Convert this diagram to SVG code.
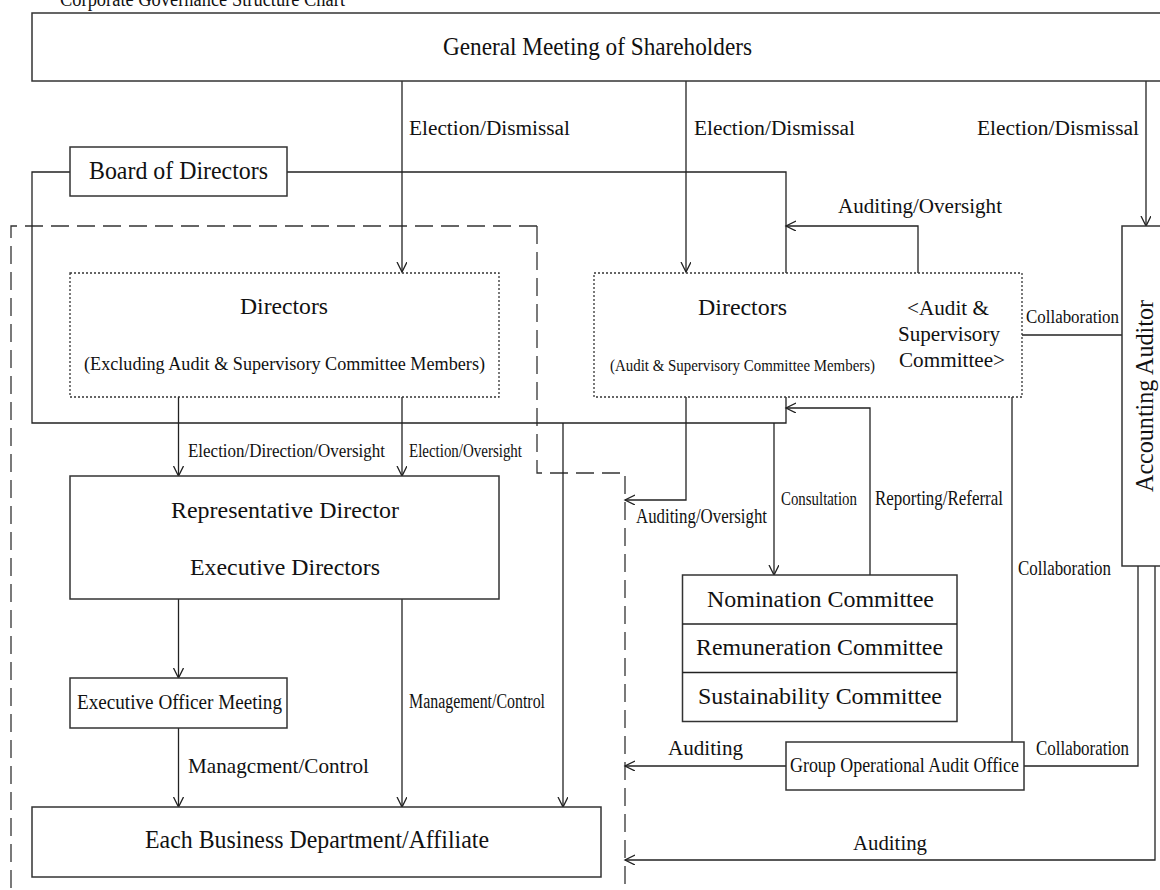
<svg xmlns="http://www.w3.org/2000/svg" width="1160" height="890" viewBox="0 0 1160 890">
<defs>
<style>
.box{fill:#fff;stroke:#333;stroke-width:1.5}
.dot{fill:none;stroke:#333;stroke-width:1.3;stroke-dasharray:2 2}
.dash{fill:none;stroke:#333;stroke-width:1.3;stroke-dasharray:18 8}
.ln{fill:none;stroke:#222;stroke-width:1.3}
.arr{marker-end:url(#ah)}
text{font-family:"Liberation Serif","Times New Roman",serif;fill:#111}
.xl{font-size:25px}
.big{font-size:23px}
.mid{font-size:21px}
.lab{font-size:20px}
.sm{font-size:18px}
.xs{font-size:16px}
</style>
<marker id="ah" markerWidth="12" markerHeight="12" refX="10" refY="5" orient="auto" markerUnits="userSpaceOnUse">
<path d="M0,0 L10,5 L0,10" fill="none" stroke="#222" stroke-width="1.3"/>
</marker>
</defs>
<rect width="1160" height="890" fill="#fff"/>
<text class="lab" x="60" y="6" textLength="285" lengthAdjust="spacingAndGlyphs">Corporate Governance Structure Chart</text>

<g id="dashed-region">
<path class="dash" d="M537,226 H11 V890"/>
<path class="dash" d="M537,226 V473 H625 V890"/>
</g>

<g id="connectors">
<path class="ln arr" d="M402,81 V272"/>
<path class="ln arr" d="M686,81 V272"/>
<path class="ln arr" d="M1146,81 V226"/>
<path class="ln" d="M70,172 H32 V423 H786 V397"/>
<path class="ln" d="M287,172 H786 V273"/>
<path class="ln arr" d="M918,273 V226 H786"/>
<path class="ln arr" d="M870,575 V408 H786"/>
<path class="ln arr" d="M774,423 V575"/>
<path class="ln arr" d="M563,423 V807"/>
<path class="ln arr" d="M178.5,397 V476"/>
<path class="ln arr" d="M402,397 V476"/>
<path class="ln arr" d="M686,397 V500 H625"/>
<path class="ln" d="M1022,335 H1122"/>
<path class="ln" d="M1012,397 V742"/>
<path class="ln arr" d="M178.5,599 V678"/>
<path class="ln arr" d="M178.5,728 V807"/>
<path class="ln arr" d="M402,599 V807"/>
<path class="ln arr" d="M786,766 H625"/>
<path class="ln" d="M1138,566 V766 H1024"/>
<path class="ln arr" d="M1155,566 V860 H625"/>
</g>

<g id="labels">
<text class="lab" x="409" y="135" textLength="161" lengthAdjust="spacingAndGlyphs">Election/Dismissal</text>
<text class="lab" x="694" y="135" textLength="161" lengthAdjust="spacingAndGlyphs">Election/Dismissal</text>
<text class="lab" x="977" y="135" textLength="162" lengthAdjust="spacingAndGlyphs">Election/Dismissal</text>
<text class="mid" x="838" y="213" textLength="164" lengthAdjust="spacingAndGlyphs">Auditing/Oversight</text>
<text class="sm" x="1026" y="323" textLength="93" lengthAdjust="spacingAndGlyphs">Collaboration</text>
<text class="sm" x="188" y="457" textLength="197" lengthAdjust="spacingAndGlyphs">Election/Direction/Oversight</text>
<text class="sm" x="409" y="457" textLength="113" lengthAdjust="spacingAndGlyphs">Election/Oversight</text>
<text class="lab" x="636" y="523" textLength="131" lengthAdjust="spacingAndGlyphs">Auditing/Oversight</text>
<text class="sm" x="781" y="505" textLength="76" lengthAdjust="spacingAndGlyphs">Consultation</text>
<text class="mid" x="875" y="505" textLength="128" lengthAdjust="spacingAndGlyphs">Reporting/Referral</text>
<text class="mid" x="1018" y="575" textLength="93" lengthAdjust="spacingAndGlyphs">Collaboration</text>
<text class="lab" x="409" y="708" textLength="136" lengthAdjust="spacingAndGlyphs">Management/Control</text>
<text class="mid" x="668" y="755" textLength="75" lengthAdjust="spacingAndGlyphs">Auditing</text>
<text class="mid" x="1036" y="755" textLength="93" lengthAdjust="spacingAndGlyphs">Collaboration</text>
<text class="mid" x="188" y="773" textLength="181" lengthAdjust="spacingAndGlyphs">Managcment/Control</text>
<text class="mid" x="853" y="850" textLength="74" lengthAdjust="spacingAndGlyphs">Auditing</text>
</g>

<g id="general-meeting">
<rect class="box" x="32" y="13" width="1140" height="68"/>
<text class="xl" x="443" y="55" textLength="309" lengthAdjust="spacingAndGlyphs">General Meeting of Shareholders</text>
</g>

<g id="board">
<rect class="box" x="70" y="147" width="217" height="49"/>
<text class="xl" x="89" y="179" textLength="179" lengthAdjust="spacingAndGlyphs">Board of Directors</text>
</g>

<g id="directors-exec">
<rect class="dot" x="70" y="273" width="429" height="124"/>
<text class="big" x="240" y="314" textLength="88" lengthAdjust="spacingAndGlyphs">Directors</text>
<text class="sm" x="84" y="370" textLength="401" lengthAdjust="spacingAndGlyphs">(Excluding Audit &amp; Supervisory Committee Members)</text>
</g>

<g id="directors-audit">
<rect class="dot" x="594" y="273" width="428" height="124"/>
<text class="big" x="698" y="315" textLength="89" lengthAdjust="spacingAndGlyphs">Directors</text>
<text class="xs" x="610" y="371" textLength="265" lengthAdjust="spacingAndGlyphs">(Audit &amp; Supervisory Committee Members)</text>
<text class="mid" x="907" y="315" textLength="82" lengthAdjust="spacingAndGlyphs">&lt;Audit &amp;</text>
<text class="mid" x="898" y="341" textLength="102" lengthAdjust="spacingAndGlyphs">Supervisory</text>
<text class="mid" x="899" y="367" textLength="106" lengthAdjust="spacingAndGlyphs">Committee&gt;</text>
</g>

<g id="accounting-auditor">
<rect class="box" x="1122" y="226" width="60" height="340"/>
<text class="xl" transform="translate(1153,396) rotate(-90)" text-anchor="middle" textLength="192" lengthAdjust="spacingAndGlyphs">Accounting Auditor</text>
</g>

<g id="representative">
<rect class="box" x="70" y="476" width="429" height="123"/>
<text class="big" x="171" y="518" textLength="228" lengthAdjust="spacingAndGlyphs">Representative Director</text>
<text class="big" x="190" y="575" textLength="190" lengthAdjust="spacingAndGlyphs">Executive Directors</text>
</g>

<g id="committees">
<rect class="box" x="682.5" y="575" width="274.5" height="146.5"/>
<line class="ln" x1="682.5" y1="624" x2="957" y2="624"/>
<line class="ln" x1="682.5" y1="672.5" x2="957" y2="672.5"/>
<text class="big" x="707" y="607" textLength="227" lengthAdjust="spacingAndGlyphs">Nomination Committee</text>
<text class="big" x="696" y="655" textLength="247" lengthAdjust="spacingAndGlyphs">Remuneration Committee</text>
<text class="big" x="698" y="704" textLength="244" lengthAdjust="spacingAndGlyphs">Sustainability Committee</text>
</g>

<g id="exec-officer">
<rect class="box" x="70" y="678" width="217" height="50"/>
<text class="mid" x="77" y="709" textLength="205" lengthAdjust="spacingAndGlyphs">Executive Officer Meeting</text>
</g>

<g id="audit-office">
<rect class="box" x="786" y="742" width="238" height="48"/>
<text class="mid" x="790" y="772" textLength="229" lengthAdjust="spacingAndGlyphs">Group Operational Audit Office</text>
</g>

<g id="business">
<rect class="box" x="32" y="807" width="569" height="70"/>
<text class="xl" x="145" y="848" textLength="344" lengthAdjust="spacingAndGlyphs">Each Business Department/Affiliate</text>
</g>
</svg>
